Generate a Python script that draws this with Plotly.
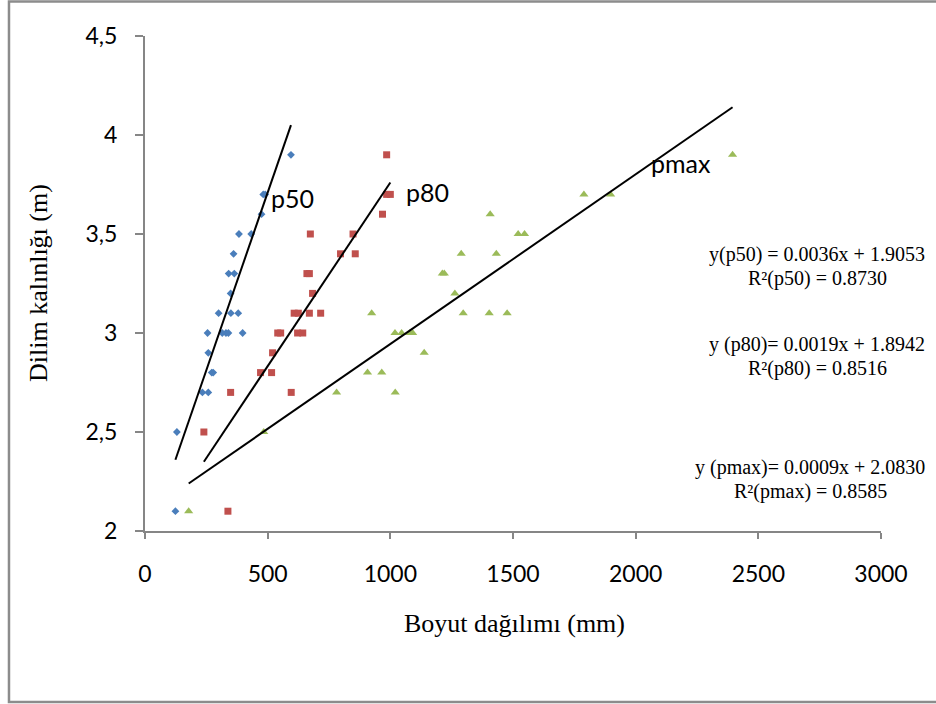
import plotly.graph_objects as go

# ---- data ----
p50_x = [124, 130, 234, 258, 272, 278, 258, 255, 315, 330, 340, 398, 300, 350, 380,
         349, 341, 364, 361, 383, 433, 475, 482, 490, 595]
p50_y = [2.1, 2.5, 2.7, 2.7, 2.8, 2.8, 2.9, 3.0, 3.0, 3.0, 3.0, 3.0, 3.1, 3.1, 3.1,
         3.2, 3.3, 3.3, 3.4, 3.5, 3.5, 3.6, 3.7, 3.7, 3.9]

p80_x = [338, 240, 349, 596, 471, 516, 520, 541, 553, 622, 643, 608, 625, 670, 716,
         683, 660, 670, 797, 857, 674, 848, 968, 985, 1000, 985]
p80_y = [2.1, 2.5, 2.7, 2.7, 2.8, 2.8, 2.9, 3.0, 3.0, 3.0, 3.0, 3.1, 3.1, 3.1, 3.1,
         3.2, 3.3, 3.3, 3.4, 3.4, 3.5, 3.5, 3.6, 3.7, 3.7, 3.9]

pmax_x = [178, 484, 781, 1020, 907, 965, 1138, 1019, 1046, 1080, 1091, 924, 1297, 1403, 1476,
          1263, 1212, 1220, 1289, 1432, 1521, 1547, 1407, 1789, 1898, 2395]
pmax_y = [2.1, 2.5, 2.7, 2.7, 2.8, 2.8, 2.9, 3.0, 3.0, 3.0, 3.0, 3.1, 3.1, 3.1, 3.1,
          3.2, 3.3, 3.3, 3.4, 3.4, 3.5, 3.5, 3.6, 3.7, 3.7, 3.9]

# trend line end points (as drawn)
trend_p50_x = [124, 595]
trend_p50_y = [2.36, 4.05]
trend_p80_x = [240, 1000]
trend_p80_y = [2.35, 3.76]
trend_pmax_x = [178, 2395]
trend_pmax_y = [2.24, 4.14]

x_tick_vals = [0, 500, 1000, 1500, 2000, 2500, 3000]
x_tick_text = ["0", "500", "1000", "1500", "2000", "2500", "3000"]
y_tick_vals = [2, 2.5, 3, 3.5, 4, 4.5]
y_tick_text = ["2", "2,5", "3", "3,5", "4", "4,5"]

series_labels = ["p50", "p80", "pmax"]
eq_lines = ["y(p50) = 0.0036x + 1.9053", "R²(p50) = 0.8730",
            "y (p80)= 0.0019x + 1.8942", "R²(p80) = 0.8516",
            "y (pmax)= 0.0009x + 2.0830", "R²(pmax) = 0.8585"]

x_title = "Boyut dağılımı (mm)"
y_title = "Dilim kalınlığı (m)"

BLUE = "#4A7EBB"
RED = "#C0504D"
GREEN = "#9BBB59"
AXIS = "#868686"

fig = go.Figure()
fig.add_trace(go.Scatter(x=p50_x, y=p50_y, mode="markers", name="p50",
                         marker=dict(symbol="diamond", size=6, color=BLUE)))
fig.add_trace(go.Scatter(x=p80_x, y=p80_y, mode="markers", name="p80",
                         marker=dict(symbol="square", size=7, color=RED)))
fig.add_trace(go.Scatter(x=pmax_x, y=pmax_y, mode="markers", name="pmax",
                         marker=dict(symbol="triangle-up", size=8, color=GREEN)))
for tx, ty in [(trend_p50_x, trend_p50_y), (trend_p80_x, trend_p80_y), (trend_pmax_x, trend_pmax_y)]:
    fig.add_trace(go.Scatter(x=tx, y=ty, mode="lines", line=dict(color="black", width=2),
                             hoverinfo="skip"))

label_font = dict(family="Lato, 'Open Sans', sans-serif", size=25, color="black")
label_pos = [(601, 3.68), (1151, 3.71), (2184, 3.86)]
for txt, (lx, ly) in zip(series_labels, label_pos):
    fig.add_annotation(x=lx, y=ly, xref="x", yref="y", text=txt, showarrow=False,
                       xanchor="center", yanchor="middle", font=label_font)

eq_font = dict(family="'Liberation Serif', 'Times New Roman', serif", size=20, color="black")
eq_pos = [(2741, 3.395), (2743, 3.275), (2741, 2.94), (2743, 2.82), (2711, 2.32), (2711, 2.20)]
for txt, (ex, ey) in zip(eq_lines, eq_pos):
    fig.add_annotation(x=ex, y=ey, xref="x", yref="y", text=txt, showarrow=False,
                       xanchor="center", yanchor="middle", font=eq_font)

title_font = dict(family="'Liberation Serif', 'Times New Roman', serif", size=26, color="black")
fig.add_annotation(x=0.5027, y=-0.186, xref="paper", yref="paper", text=x_title,
                   showarrow=False, xanchor="center", yanchor="middle", font=title_font)
fig.add_annotation(x=-0.1454, y=0.501, xref="paper", yref="paper", text=y_title,
                   showarrow=False, xanchor="center", yanchor="middle", textangle=-90,
                   font=title_font)

# outer chart border
fig.add_shape(type="rect", xref="paper", yref="paper",
              x0=-0.1848, x1=1.0802, y0=-0.3455, y1=1.0697,
              line=dict(color="#8C8C8C", width=2.5), fillcolor="rgba(0,0,0,0)", layer="below")

tick_font = dict(family="Lato, 'Open Sans', sans-serif", size=23, color="black")
fig.update_xaxes(range=[0, 3000], tickvals=x_tick_vals, ticktext=x_tick_text,
                 showgrid=False, zeroline=False, showline=True, linecolor=AXIS, linewidth=2,
                 ticks="outside", ticklen=6, tickwidth=2, tickcolor=AXIS,
                 tickfont=tick_font, ticklabelstandoff=15)
fig.update_yaxes(range=[2, 4.5], tickvals=y_tick_vals, ticktext=y_tick_text,
                 showgrid=False, zeroline=False, showline=True, linecolor=AXIS, linewidth=2,
                 ticks="outside", ticklen=8, tickwidth=2, tickcolor=AXIS,
                 tickfont=tick_font, ticklabelstandoff=13)

fig.update_layout(width=936, height=704, showlegend=False,
                  margin=dict(l=145, r=55, t=36, b=173, pad=0),
                  plot_bgcolor="white", paper_bgcolor="white")

fig.write_html("out.html")
